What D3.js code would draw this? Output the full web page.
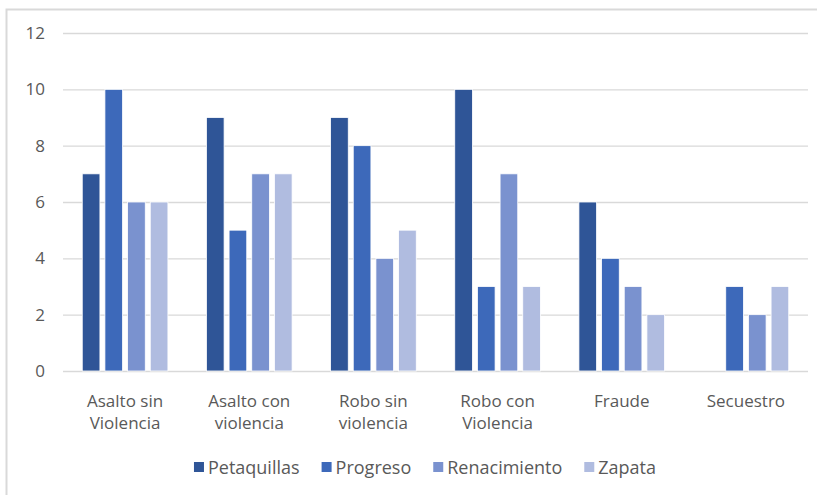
<!DOCTYPE html>
<html>
<head>
<meta charset="utf-8">
<script src="https://cdn.jsdelivr.net/npm/d3@7"></script>
<style>
  body { margin: 0; background: #fff; }
  svg text { font-family: "Open Sans", "Noto Sans", sans-serif; fill: #595959; }
</style>
</head>
<body>
<svg id="chart" width="817" height="495"></svg>
<script>
const categories = [
  ["Asalto sin", "Violencia"],
  ["Asalto con", "violencia"],
  ["Robo sin", "violencia"],
  ["Robo con", "Violencia"],
  ["Fraude"],
  ["Secuestro"]
];
const seriesNames = ["Petaquillas", "Progreso", "Renacimiento", "Zapata"];
const petaquillas = [7, 9, 9, 10, 6, 0];
const progreso = [10, 5, 8, 3, 4, 3];
const renacimiento = [6, 7, 4, 7, 3, 2];
const zapata = [6, 7, 5, 3, 2, 3];
const yTicks = [0, 2, 4, 6, 8, 10, 12];
const colors = ["#2f5597", "#3d69ba", "#7a92cf", "#b0bce0"];

const seriesValues = [petaquillas, progreso, renacimiento, zapata];

const svg = d3.select("#chart");

// frame of the chart box
svg.append("path")
  .attr("d", "M6.5,495 L6.5,9.5 L817,9.5")
  .attr("fill", "none")
  .attr("stroke", "#d9d9d9")
  .attr("stroke-width", 2);

const plot = { left: 63, right: 808, top: 33, bottom: 371 };

const y = d3.scaleLinear().domain([0, 12]).range([plot.bottom, plot.top]);

const x0 = d3.scaleBand()
  .domain(d3.range(categories.length))
  .range([plot.left, plot.right])
  .paddingInner(0.31)
  .paddingOuter(0.155);

const x1 = d3.scaleBand()
  .domain(d3.range(seriesNames.length))
  .range([0, x0.bandwidth()])
  .paddingInner(0.22);

// gridlines + y labels
const yAxis = d3.axisLeft(y)
  .tickValues(yTicks)
  .tickSize(-(plot.right - plot.left))
  .tickPadding(18);

const gy = svg.append("g")
  .attr("transform", `translate(${plot.left},0)`)
  .call(yAxis);
gy.select(".domain").remove();
gy.selectAll(".tick line").attr("stroke", "#d9d9d9").attr("stroke-width", 1.3);
gy.selectAll(".tick text")
  .style("font-size", "17px")
  .attr("fill", "#595959");

// bars
const groups = svg.append("g")
  .selectAll("g")
  .data(categories)
  .join("g")
  .attr("transform", (d, i) => `translate(${x0(i)},0)`);

groups.selectAll("rect")
  .data((d, i) => seriesValues.map((s, j) => ({ j, v: s[i] })))
  .join("rect")
  .attr("x", d => x1(d.j))
  .attr("y", d => y(d.v))
  .attr("width", x1.bandwidth())
  .attr("height", d => y(0) - y(d.v))
  .attr("fill", d => colors[d.j])
  .attr("stroke", "#fff")
  .attr("stroke-width", d => d.v > 0 ? 0.8 : 0);

// category labels
const xl = svg.append("g");
categories.forEach((lines, i) => {
  const cx = x0(i) + x0.bandwidth() / 2;
  const t = xl.append("text")
    .attr("x", cx)
    .attr("y", 407)
    .attr("text-anchor", "middle")
    .style("font-size", "17px");
  lines.forEach((line, k) => {
    t.append("tspan")
      .attr("x", cx)
      .attr("dy", k === 0 ? 0 : 22)
      .text(line);
  });
});

// legend, centred under the plot
const legend = svg.append("g").attr("transform", "translate(0,474)");
const items = seriesNames.map((name, i) => {
  const item = legend.append("g");
  item.append("rect")
    .attr("x", 0).attr("y", -12)
    .attr("width", 10).attr("height", 10)
    .attr("fill", colors[i]);
  const t = item.append("text")
    .attr("x", 14).attr("y", 0)
    .style("font-size", "18px")
    .text(name);
  return { item, w: 14 + t.node().getComputedTextLength() };
});
const gap = 22;
const total = d3.sum(items, d => d.w) + gap * (items.length - 1);
let lx = 425 - total / 2;
items.forEach(d => {
  d.item.attr("transform", `translate(${lx},0)`);
  lx += d.w + gap;
});
</script>
</body>
</html>
